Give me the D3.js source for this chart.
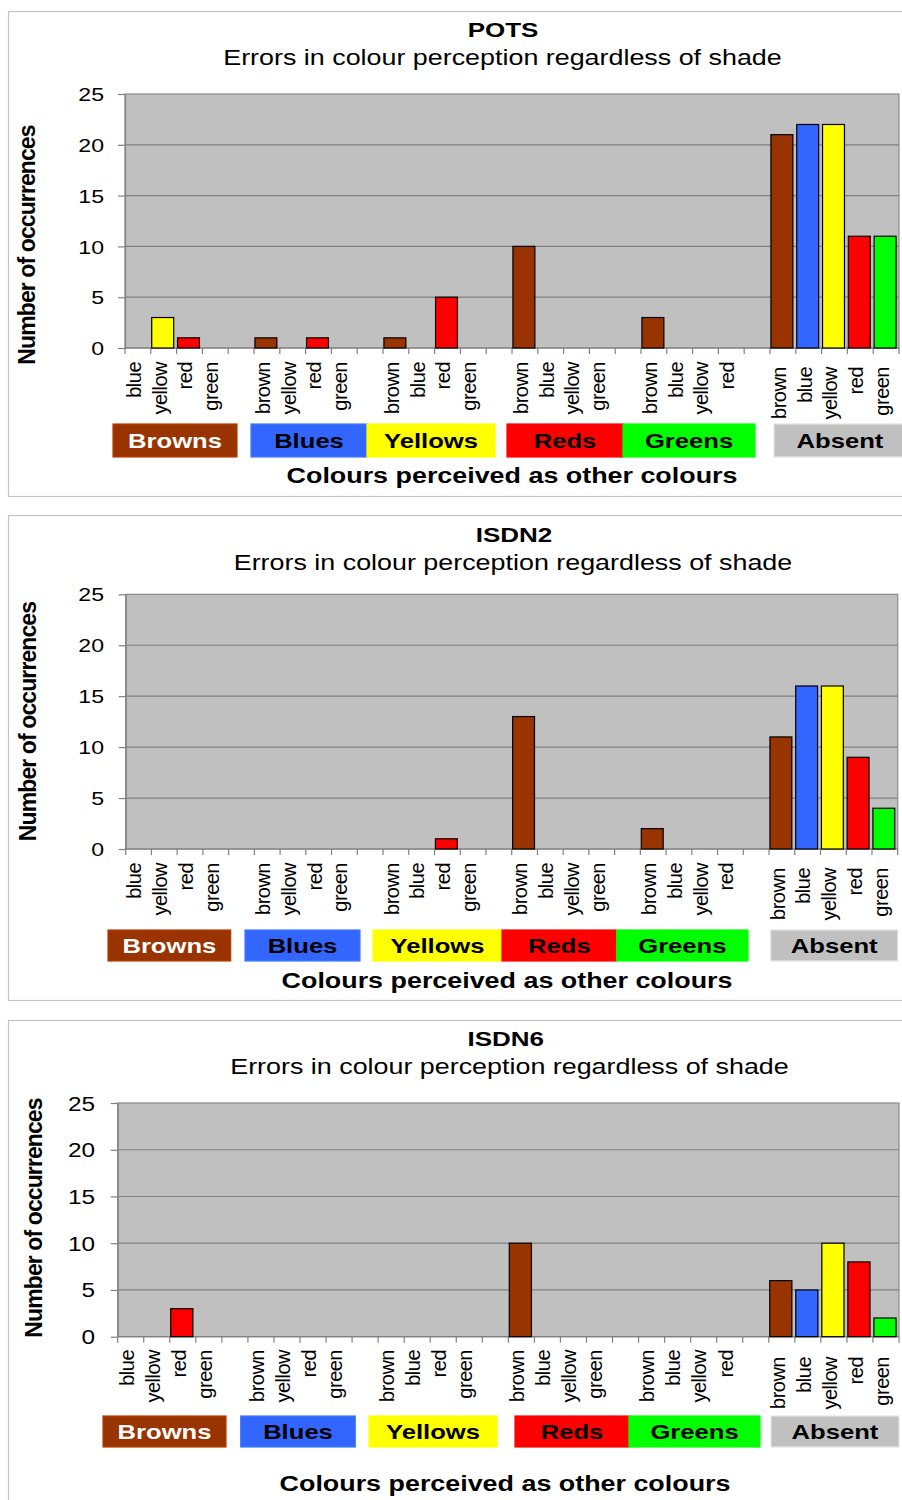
<!DOCTYPE html>
<html>
<head>
<meta charset="utf-8">
<script src="https://cdn.jsdelivr.net/npm/d3@7"></script>
<style>
  html, body { margin: 0; padding: 0; background: #ffffff; }
  svg { display: block; }
  text { font-family: "Liberation Sans", Arial, sans-serif; }
</style>
</head>
<body>
<svg id="chart" width="902" height="1500"></svg>
<script>
// ---------------- DATA ----------------
const panelTitles = ["POTS", "ISDN2", "ISDN6"];
const subtitle = "Errors in colour perception regardless of shade";
const xTitle = "Colours perceived as other colours";
const yTitle = "Number of occurrences";
const yTicks = [0, 5, 10, 15, 20, 25];

const groupNames = ["Browns", "Blues", "Yellows", "Reds", "Greens", "Absent"];
const groupLabels = [
  ["blue", "yellow", "red", "green"],
  ["brown", "yellow", "red", "green"],
  ["brown", "blue", "red", "green"],
  ["brown", "blue", "yellow", "green"],
  ["brown", "blue", "yellow", "red"],
  ["brown", "blue", "yellow", "red", "green"]
];

const potsValues = [
  [0, 3, 1, 0],
  [1, 0, 1, 0],
  [1, 0, 5, 0],
  [10, 0, 0, 0],
  [3, 0, 0, 0],
  [21, 22, 22, 11, 11]
];
const isdn2Values = [
  [0, 0, 0, 0],
  [0, 0, 0, 0],
  [0, 0, 1, 0],
  [13, 0, 0, 0],
  [2, 0, 0, 0],
  [11, 16, 16, 9, 4]
];
const isdn6Values = [
  [0, 0, 3, 0],
  [0, 0, 0, 0],
  [0, 0, 0, 0],
  [10, 0, 0, 0],
  [0, 0, 0, 0],
  [6, 5, 10, 8, 2]
];
const panelValues = [potsValues, isdn2Values, isdn6Values];

// ---------------- STYLES / LAYOUT ----------------
const colourOf = {
  brown: "#993300", blue: "#3366ff", yellow: "#ffff00",
  red: "#ff0000", green: "#00ff00"
};
const groupFill = ["#993300", "#3366ff", "#ffff00", "#ff0000", "#00ff00", "#c0c0c0"];
const groupText = ["#ffffff", "#000000", "#000000", "#000000", "#000000", "#000000"];
const SX = 1.25; // horizontal stretch of horizontal text

const layouts = [
  { frameTop: 11, frameBottom: 496, titleX: 503, titleY: 37, subX: 502.5, subY: 65,
    plot: { l: 125, t: 94, r: 899, b: 348 }, yLabelRight: 104, yLabelSize: 18.5,
    yTitleX: 27, yTitleY: 245, xLabelTop: 362, lastGroupShift: 5,
    boxTop: 424, boxBottom: 457,
    boxes: [[113, 237], [251, 367], [367, 495], [507, 623], [623, 755], [774, 906]],
    xTitleX: 512, xTitleY: 483 },
  { frameTop: 515, frameBottom: 1000, titleX: 514, titleY: 541.5, subX: 513, subY: 570,
    plot: { l: 125.7, t: 594.3, r: 897.7, b: 849 }, yLabelRight: 104, yLabelSize: 18.5,
    yTitleX: 27.5, yTitleY: 721.5, xLabelTop: 863, lastGroupShift: 5,
    boxTop: 930, boxBottom: 961,
    boxes: [[108, 230.7], [245, 360], [373, 502], [502, 616.7], [616.7, 748], [770.7, 897.7]],
    xTitleX: 507, xTitleY: 988 },
  { frameTop: 1020, frameBottom: 1520, titleX: 505.7, titleY: 1046, subX: 509.5, subY: 1074,
    plot: { l: 117.7, t: 1103, r: 899, b: 1336.7 }, yLabelRight: 95, yLabelSize: 19.5,
    yTitleX: 34, yTitleY: 1218, xLabelTop: 1350, lastGroupShift: 7,
    boxTop: 1416, boxBottom: 1447,
    boxes: [[103, 226], [240.7, 355.3], [369, 497], [515, 629], [629, 760], [771, 899]],
    xTitleX: 505, xTitleY: 1491 }
];

// ---------------- BUILD SLOTS ----------------
// each group followed by an empty gap slot (except the last)
function buildSlots(values) {
  const slots = [];
  groupLabels.forEach((labels, gi) => {
    labels.forEach((lab, li) => {
      slots.push({ key: gi + "-" + li, group: gi, label: lab, value: values[gi][li] });
    });
    if (gi < groupLabels.length - 1) slots.push({ key: "gap" + gi, group: gi, label: null, value: 0 });
  });
  return slots;
}

const svg = d3.select("#chart");

function hText(parent, x, y, str, size, weight, anchor, fill) {
  return parent.append("text")
    .attr("transform", `translate(${x},${y}) scale(${SX},1)`)
    .attr("text-anchor", anchor)
    .attr("font-size", size)
    .attr("font-weight", weight)
    .attr("fill", fill || "#000")
    .text(str);
}

layouts.forEach((L, pi) => {
  const g = svg.append("g");
  const slots = buildSlots(panelValues[pi]);

  // frame
  g.append("rect")
    .attr("x", 8.5).attr("y", L.frameTop + 0.5)
    .attr("width", 902).attr("height", L.frameBottom - L.frameTop)
    .attr("fill", "#fff").attr("stroke", "#c4c4c4").attr("stroke-width", 1.2);

  // titles
  hText(g, L.titleX, L.titleY, panelTitles[pi], 20.8, "bold", "middle");
  hText(g, L.subX, L.subY, subtitle, 21.5, "normal", "middle");

  const P = L.plot;
  const x = d3.scaleBand()
    .domain(slots.map(d => d.key))
    .range([P.l, P.r])
    .paddingInner(0.15)
    .paddingOuter(0.075);
  const y = d3.scaleLinear().domain([0, 25]).range([P.b, P.t]);

  // plot background
  g.append("rect")
    .attr("x", P.l).attr("y", P.t)
    .attr("width", P.r - P.l).attr("height", P.b - P.t)
    .attr("fill", "#c0c0c0").attr("stroke", "#8a8a8a").attr("stroke-width", 1.2);

  // gridlines
  g.selectAll(".grid").data(yTicks.filter(t => t > 0 && t < 25)).enter()
    .append("line")
    .attr("x1", P.l).attr("x2", P.r)
    .attr("y1", d => y(d)).attr("y2", d => y(d))
    .attr("stroke", "#808080").attr("stroke-width", 1.2);

  // y axis
  const yAxis = g.append("g")
    .attr("transform", `translate(${P.l},0)`)
    .call(d3.axisLeft(y).tickValues(yTicks).tickSizeInner(7).tickSizeOuter(0));
  yAxis.select(".domain").attr("stroke", "#808080").attr("stroke-width", 1.2);
  yAxis.selectAll(".tick line").attr("stroke", "#808080").attr("stroke-width", 1.2);
  yAxis.selectAll(".tick text")
    .attr("x", null).attr("dy", "0.36em")
    .attr("transform", `translate(${L.yLabelRight - P.l},0) scale(${SX},1)`)
    .attr("font-size", L.yLabelSize)
    .attr("font-family", "Liberation Sans, Arial, sans-serif")
    .attr("fill", "#000");

  // x axis line + slot boundary ticks
  g.append("line")
    .attr("x1", P.l).attr("x2", P.r).attr("y1", y(0)).attr("y2", y(0))
    .attr("stroke", "#808080").attr("stroke-width", 1.2);
  const step = x.step();
  const x0 = x.range()[0];
  g.selectAll(".xtick").data(d3.range(slots.length + 1)).enter()
    .append("line")
    .attr("x1", i => x0 + i * step).attr("x2", i => x0 + i * step)
    .attr("y1", y(0)).attr("y2", y(0) + 6)
    .attr("stroke", "#808080").attr("stroke-width", 1.2);

  // bars
  g.selectAll(".bar").data(slots.filter(d => d.label && d.value > 0)).enter()
    .append("rect")
    .attr("x", d => x(d.key) - 1)
    .attr("y", d => y(d.value))
    .attr("width", x.bandwidth())
    .attr("height", d => y(0) - y(d.value))
    .attr("fill", d => colourOf[d.label])
    .attr("stroke", "#000").attr("stroke-width", 1.2);

  // x tick labels (rotated)
  g.selectAll(".xlab").data(slots.filter(d => d.label)).enter()
    .append("text")
    .attr("transform", d => {
      const cx = x(d.key) + x.bandwidth() / 2;
      const top = L.xLabelTop + (d.group === groupNames.length - 1 ? L.lastGroupShift : 0);
      return `translate(${cx},${top}) rotate(-90)`;
    })
    .attr("dy", "0.14em")
    .attr("text-anchor", "end")
    .attr("font-size", 20)
    .attr("letter-spacing", -0.5)
    .attr("fill", "#000")
    .text(d => d.label);

  // y title
  g.append("text")
    .attr("transform", `translate(${L.yTitleX},${L.yTitleY}) rotate(-90)`)
    .attr("dy", "0.36em")
    .attr("text-anchor", "middle")
    .attr("font-size", 23)
    .attr("font-weight", "bold")
    .attr("letter-spacing", -0.9)
    .text(yTitle);

  // group boxes
  groupNames.forEach((name, gi) => {
    const [bx0, bx1] = L.boxes[gi];
    const fill = groupFill[gi];
    g.append("rect")
      .attr("x", bx0).attr("y", L.boxTop)
      .attr("width", bx1 - bx0).attr("height", L.boxBottom - L.boxTop)
      .attr("fill", fill)
      .attr("stroke", d3.color(fill).brighter(0.5).formatHex())
      .attr("stroke-width", 1.2);
    hText(g, (bx0 + bx1) / 2, (L.boxTop + L.boxBottom) / 2 + 7.3, name, 20.5, "bold", "middle", groupText[gi]);
  });

  // x title
  hText(g, L.xTitleX, L.xTitleY, xTitle, 21.5, "bold", "middle");
});
</script>
</body>
</html>
